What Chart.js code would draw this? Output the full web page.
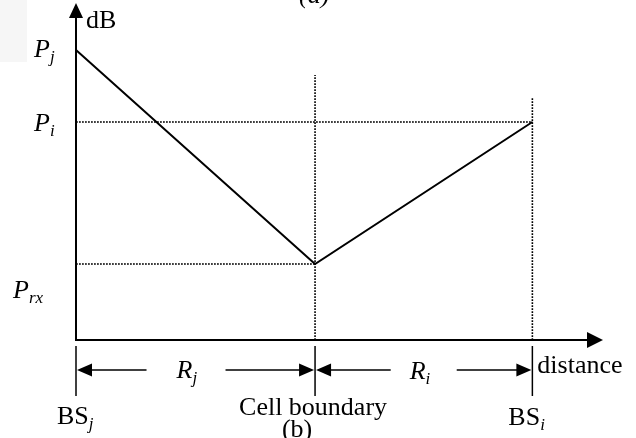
<!DOCTYPE html>
<html>
<head>
<meta charset="utf-8">
<script src="https://cdn.jsdelivr.net/npm/chart.js@4.4.1/dist/chart.umd.min.js"></script>
<style>
html,body{margin:0;padding:0;background:#fff;}
canvas{display:block;}
</style>
</head>
<body>
<canvas id="diagram" width="636" height="438"></canvas>
<script>
// positions along the path BS_j -> cell boundary -> BS_i (R_j = 1.1, R_i = 1.0)
const stations = ['BSj', 'Cell boundary', 'BSi'];
const distance = [0, 1.1, 2.1];
// signal level (dB) at each position: P_j, minimum at boundary, P_i
const level = [29, 7.6, 21.8];
// axis extents and top of the dotted verticals
const axisMax = [2.425, 33.7];
const guideTop = [26.5, 24.2];

const FONT = '"Liberation Serif", "Times New Roman", serif';
const SIZE = 26, SUB = 17;

function txt(ctx, s, x, y, size, italic, align) {
  ctx.save();
  ctx.font = (italic ? 'italic ' : '') + size + 'px ' + FONT;
  ctx.textAlign = align || 'left';
  ctx.textBaseline = 'alphabetic';
  ctx.fillText(s, x, y);
  const w = ctx.measureText(s).width;
  ctx.restore();
  return w;
}

function subLabel(ctx, main, sub, x, y, italicMain) {
  const w = txt(ctx, main, x, y, SIZE, italicMain);
  txt(ctx, sub, x + w, y + 5, SUB, true);
}

function head(ctx, x, y, dir, len, half) {
  ctx.beginPath();
  if (dir === 'up') {
    ctx.moveTo(x, y); ctx.lineTo(x - half, y + len); ctx.lineTo(x + half, y + len);
  } else if (dir === 'right') {
    ctx.moveTo(x, y); ctx.lineTo(x - len, y - half); ctx.lineTo(x - len, y + half);
  } else {
    ctx.moveTo(x, y); ctx.lineTo(x + len, y - half); ctx.lineTo(x + len, y + half);
  }
  ctx.closePath();
  ctx.fill();
}

function seg(ctx, x1, y1, x2, y2, w) {
  ctx.lineWidth = w;
  ctx.beginPath();
  ctx.moveTo(x1, y1);
  ctx.lineTo(x2, y2);
  ctx.stroke();
}

const sketch = {
  id: 'sketch',
  beforeDraw(chart) {
    const ctx = chart.ctx;
    ctx.save();
    ctx.fillStyle = '#f6f6f6';
    ctx.fillRect(0, 0, 27, 62);
    ctx.restore();
  },
  afterDatasetsDraw(chart) {
    const ctx = chart.ctx;
    const xs = chart.scales.x, ys = chart.scales.y;
    const x0 = xs.getPixelForValue(0);
    const y0 = ys.getPixelForValue(0);
    const yTop = ys.getPixelForValue(axisMax[1]);
    const xEnd = xs.getPixelForValue(axisMax[0]);
    const px = distance.map(d => xs.getPixelForValue(d));
    const py = level.map(v => ys.getPixelForValue(v));

    ctx.save();
    ctx.strokeStyle = '#000';
    ctx.fillStyle = '#000';

    // axes with arrow heads
    seg(ctx, x0, y0 + 1, x0, yTop + 14, 2);
    head(ctx, x0, yTop, 'up', 15, 7);
    seg(ctx, x0 - 1, y0, xEnd - 14, y0, 2);
    head(ctx, xEnd, y0, 'right', 16, 8);

    // station ticks below the axis
    px.forEach(x => seg(ctx, x, y0 + 6, x, y0 + 56, 1.5));

    // dimension arrows R_j and R_i
    const ay = y0 + 30;
    const mj = (px[0] + px[1]) / 2, mi = (px[1] + px[2]) / 2;
    seg(ctx, px[0] + 14, ay, mj - 49, ay, 1.5);
    head(ctx, px[0] + 1, ay, 'left', 15, 6.5);
    seg(ctx, mj + 30, ay, px[1] - 14, ay, 1.5);
    head(ctx, px[1] - 1, ay, 'right', 15, 6.5);
    seg(ctx, px[1] + 14, ay, mi - 33, ay, 1.5);
    head(ctx, px[1] + 1, ay, 'left', 15, 6.5);
    seg(ctx, mi + 33, ay, px[2] - 14, ay, 1.5);
    head(ctx, px[2] - 1, ay, 'right', 15, 6.5);
    subLabel(ctx, 'R', 'j', mj - 19, ay + 8, true);
    subLabel(ctx, 'R', 'i', mi - 14, ay + 9, true);

    // axis labels
    txt(ctx, 'dB', x0 + 10, yTop + 25, SIZE, false);
    txt(ctx, 'distance', px[2] + 5, y0 + 33, SIZE, false);

    // level labels
    subLabel(ctx, 'P', 'j', x0 - 42, py[0] + 7, true);
    subLabel(ctx, 'P', 'i', x0 - 42, py[2] + 9, true);
    subLabel(ctx, 'P', 'rx', x0 - 63, py[1] + 34, true);

    // station labels
    subLabel(ctx, 'BS', 'j', px[0] - 19, y0 + 84, false);
    txt(ctx, 'Cell boundary', px[1] - 2, y0 + 75, SIZE, false, 'center');
    txt(ctx, '(b)', px[1] - 18, y0 + 97, SIZE, false, 'center');
    subLabel(ctx, 'BS', 'i', px[2] - 24, y0 + 85, false);

    // caption of the panel above, cut off
    txt(ctx, '(a)', px[1] - 16, 3, SIZE, true);
    ctx.restore();
  }
};

const mainLine = distance.map((d, i) => ({ x: d, y: level[i] }));
const dotted = { borderColor: '#000', borderWidth: 1.6, borderDash: [1.8, 1.2], pointRadius: 0, tension: 0, clip: false };

function build() {
  new Chart(document.getElementById('diagram'), {
    type: 'line',
    data: {
      datasets: [
        { label: 'level', data: mainLine, borderColor: '#000', borderWidth: 2, pointRadius: 0, tension: 0, clip: false },
        Object.assign({ label: 'P_i', data: [{ x: 0, y: level[2] }, { x: distance[2], y: level[2] }] }, dotted),
        Object.assign({ label: 'P_min', data: [{ x: 0, y: level[1] }, { x: distance[1], y: level[1] }] }, dotted),
        Object.assign({ label: 'boundary', data: [{ x: distance[1], y: 0 }, { x: distance[1], y: guideTop[0] }] }, dotted),
        Object.assign({ label: 'BS_i', data: [{ x: distance[2], y: 0 }, { x: distance[2], y: guideTop[1] }] }, dotted)
      ]
    },
    options: {
      responsive: false,
      animation: false,
      layout: { padding: { left: 76, right: 33, top: 3, bottom: 98 } },
      scales: {
        x: { type: 'linear', min: 0, max: axisMax[0], display: false },
        y: { type: 'linear', min: 0, max: axisMax[1], display: false }
      },
      plugins: {
        legend: { display: false },
        tooltip: { enabled: false }
      }
    },
    plugins: [sketch]
  });
}

Promise.all([
  document.fonts.load('26px "Liberation Serif"'),
  document.fonts.load('italic 26px "Liberation Serif"')
]).then(build, build);
</script>
</body>
</html>
